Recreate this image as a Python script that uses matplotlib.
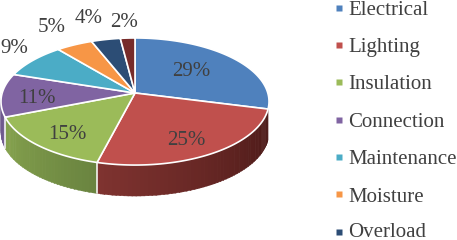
import numpy as np
import matplotlib
matplotlib.use("Agg")
import matplotlib.pyplot as plt
from matplotlib.colors import to_rgb

plt.rcParams['font.family'] = ['Liberation Serif', 'DejaVu Serif']

# Data
categories = ["Electrical", "Lighting", "Insulation", "Connection",
              "Maintenance", "Moisture", "Overload", "Other"]
values = [29, 25, 15, 11, 9, 5, 4, 2]
labels = ["29%", "25%", "15%", "11%", "9%", "5%", "4%", "2%"]
legend_names = categories[:7]

# Style
colors = ["#4f81bd", "#c0504d", "#9bbb59", "#8064a2",
          "#4bacc6", "#f79646", "#2c4d75", "#772c2a"]
wall_left = {1: "#7f3330", 2: "#86a34e", 3: "#6f5a8e"}
wall_right = {1: "#4a1917", 2: "#6a8440", 3: "#6f5a8e"}
label_xy = [(191, 76), (186, 145), (67, 139), (37, 103),
            (14, 53), (52, 32), (89, 23), (124, 27)]
legend_marker_y = [7.5, 45, 82, 120, 157, 194, 232]
legend_base_y = [15, 52, 89, 127, 164, 201.5, 237.3]
TEXT = "#404040"

# Projection of the tilted disc into pixel coordinates
X0, Y0, A, B, K, DEPTH = 135, 93, 132.8, 62.4, 0.134, 31


def project(theta_deg, radius=1.0, drop=0.0):
    t = np.radians(theta_deg)
    u, v = radius * np.sin(t), radius * np.cos(t)
    w = 1 + K * v
    return X0 + A * u / w, Y0 - B * v / w + drop


fig = plt.figure(figsize=(4.57, 2.40), dpi=100)
ax = fig.add_axes([0, 0, 1, 1])
ax.set_xlim(0, 457)
ax.set_ylim(240, 0)
ax.axis("off")

edges = np.cumsum([0] + values) * 3.6

# Side wall: only the near part of the rim is visible
VIS_A, VIS_B = edges[1], 271.0
for i, (a, b) in enumerate(zip(edges[:-1], edges[1:])):
    lo, hi = max(a, VIS_A), min(b, VIS_B)
    if lo >= hi:
        continue
    c_right = np.array(to_rgb(wall_right[i]))
    c_left = np.array(to_rgb(wall_left[i]))
    n = max(2, int((hi - lo) / 1.5))
    steps = np.linspace(lo, hi, n + 1)
    for j in range(n):
        f = j / max(n - 1, 1)
        th = np.linspace(steps[j], steps[j + 1] + 0.3, 4)
        xt, yt = project(th)
        xb, yb = project(th[::-1], drop=DEPTH)
        ax.fill(np.r_[xt, xb], np.r_[yt, yb],
                color=c_right * (1 - f) + c_left * f, lw=0.3, zorder=1)
    if VIS_A < b < VIS_B:
        xe, ye = project(b)
        xf, yf = project(b, drop=DEPTH)
        ax.plot([xe, xf], [ye, yf], color="white", lw=1.1, zorder=2)

# Top face
for i, (a, b) in enumerate(zip(edges[:-1], edges[1:])):
    th = np.linspace(a, b, 80)
    x, y = project(th)
    ax.fill(np.r_[X0, x], np.r_[Y0, y], facecolor=colors[i],
            edgecolor="white", lw=1.2, joinstyle="round", zorder=3)

# Percentage labels
for txt, (lx, ly) in zip(labels, label_xy):
    ax.text(lx, ly, txt, fontsize=15, color=TEXT, ha="center", va="baseline",
            zorder=5)

# Legend
for name, col, my, by in zip(legend_names, colors, legend_marker_y, legend_base_y):
    ax.plot([338.5], [my], marker="s", ms=4.3, mfc=col, mec="none", zorder=5)
    ax.text(348, by, name, fontsize=15, color=TEXT, ha="left", va="baseline",
            zorder=5)

fig.savefig("out.png", dpi=100, facecolor="white")
